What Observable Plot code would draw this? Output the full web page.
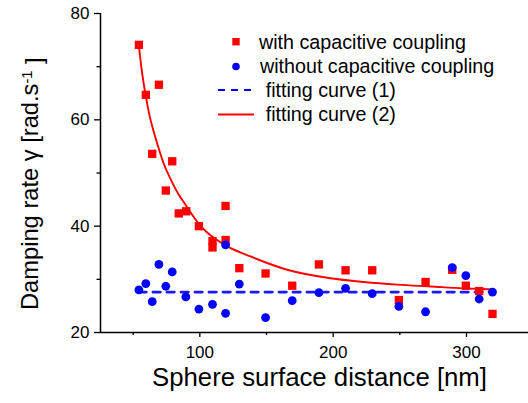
<!DOCTYPE html>
<html>
<head>
<meta charset="utf-8">
<script src="https://cdn.jsdelivr.net/npm/d3@7"></script>
<script src="https://cdn.jsdelivr.net/npm/@observablehq/plot@0.6"></script>
<style>
  html, body { margin: 0; padding: 0; background: #fff; }
  #wrap { position: relative; width: 528px; height: 403px; font-family: "Liberation Sans", Arial, sans-serif; }
  #legend { position: absolute; left: 0; top: 0; width: 528px; height: 403px; pointer-events: none; }
</style>
</head>
<body>
<div id="wrap"></div>
<script>
// ---- data ----
const redX = [54.3, 59.5, 64.3, 69.3, 74.5, 79.3, 84.2, 89.8, 99.3, 109.5, 109.5, 119.3, 119.3, 129.6, 149.3, 169.3, 189.3, 209.3, 229.3, 249.3, 269.3, 289.3, 299.5, 309.5, 319.5];
const redY = [74.1, 64.7, 53.6, 66.6, 46.7, 52.2, 42.4, 42.8, 40.0, 37.2, 36.0, 43.8, 37.4, 32.1, 31.1, 28.8, 32.8, 31.7, 31.7, 26.1, 29.5, 31.8, 28.8, 27.8, 23.5];

const blueX = [54.3, 59.5, 64.3, 69.3, 74.5, 79.3, 89.5, 99.3, 109.5, 119.3, 119.3, 129.6, 149.3, 169.3, 189.3, 209.3, 229.3, 249.3, 269.3, 289.3, 299.5, 309.5, 319.5];
const blueY = [28.0, 29.2, 25.8, 32.8, 28.7, 31.4, 26.7, 24.4, 25.3, 36.5, 23.6, 29.1, 22.8, 26.0, 27.5, 28.3, 27.3, 24.9, 23.9, 32.2, 30.7, 26.3, 27.6];

const fit1X = [54.3, 319.5];
const fit1Y = [27.6, 27.6];

const fit2X = [54.25, 56.3, 59.3, 62.3, 65.5, 69.25, 73.0, 78.0, 84.25, 88.0, 99.3, 110.5, 120.6, 138.0, 165.5, 198.0, 223.0, 248.0, 273.0, 298.0, 319.5];
const fit2Y = [74.0, 69.6, 64.7, 60.8, 57.7, 54.55, 51.7, 48.9, 45.9, 44.5, 40.4, 37.8, 36.2, 34.3, 31.8, 30.2, 29.5, 29.0, 28.65, 28.3, 28.1];

const xMajor = [100, 200, 300];
const xMinor = [50, 150, 250];
const yMajor = [20, 40, 60, 80];
const yMinor = [30, 50, 70];

const seriesLabels = ["with capacitive coupling", "without capacitive coupling", "fitting curve (1)", "fitting curve (2)"];
const xTitle = "Sphere surface distance [nm]";

const RED = "#ff0000", BLUE = "#0000ff";

const zip = (xs, ys) => xs.map((x, i) => ({x, y: ys[i]}));
const red = zip(redX, redY), blue = zip(blueX, blueY);
const fit1 = zip(fit1X, fit1Y), fit2 = zip(fit2X, fit2Y);

const font = '"Liberation Sans", Arial, sans-serif';

const plot = Plot.plot({
  width: 528, height: 403,
  marginLeft: 100, marginRight: 0, marginTop: 13, marginBottom: 71,
  x: {domain: [25.5, 346.5]},
  y: {domain: [20, 80]},
  style: {fontFamily: font, color: "#000", background: "#fff", overflow: "visible"},
  marks: [
    Plot.axisX({ticks: xMajor, tickSize: 5, tickPadding: 8, fontSize: 17, label: null, strokeWidth: 1.3}),
    Plot.axisX({ticks: xMinor, tickSize: 3, text: null, label: null, strokeWidth: 1.3}),
    Plot.axisY({ticks: yMajor, tickSize: 6, tickPadding: 5, fontSize: 17, label: null, strokeWidth: 1.3}),
    Plot.axisY({ticks: yMinor, tickSize: 3.5, text: null, label: null, strokeWidth: 1.3}),
    Plot.ruleY([20], {stroke: "#000", strokeWidth: 1.5}),
    Plot.ruleX([25.5], {stroke: "#000", strokeWidth: 1.5}),
    Plot.line(fit2, {x: "x", y: "y", stroke: RED, strokeWidth: 1.9, curve: "monotone-x"}),
    Plot.line(fit1, {x: "x", y: "y", stroke: BLUE, strokeWidth: 2.6, strokeDasharray: "7.5,6.5", strokeOpacity: 0.9}),
    Plot.dot(red, {x: "x", y: "y", symbol: "square", r: 4.7, fill: RED, stroke: "none"}),
    Plot.dot(blue, {x: "x", y: "y", symbol: "circle", r: 4.4, fill: BLUE, stroke: "none"})
  ]
});

document.getElementById("wrap").appendChild(plot);

const svg = d3.select(plot);
// x-axis title
svg.append("text")
  .attr("x", 319.5).attr("y", 386)
  .attr("text-anchor", "middle")
  .attr("font-family", font).attr("font-size", 25.75).attr("fill", "#000")
  .text(xTitle);

// y-axis title with superscript
const yt = svg.append("text")
  .attr("transform", "translate(38,310) rotate(-90)")
  .attr("text-anchor", "start")
  .attr("font-family", font).attr("font-size", 23.7).attr("fill", "#000");
yt.append("tspan").text("Damping rate \u03b3 [rad.s");
yt.append("tspan").attr("font-size", "0.62em").attr("dy", "-0.42em").text("-1");
yt.append("tspan").attr("dy", "0.42em").text(" ]");

// legend overlay
const lg = d3.select("#wrap").append("svg").attr("id", "legend").attr("width", 528).attr("height", 403);
const rowsY = [48.5, 73, 97, 121.2];
const textX = [259, 260, 265.7, 265.7];
const midY = [41.7, 66.5, 90, 114.5];
lg.append("rect").attr("x", 232.3).attr("y", midY[0] - 3.7).attr("width", 7.4).attr("height", 7.4).attr("fill", RED);
lg.append("circle").attr("cx", 236).attr("cy", midY[1]).attr("r", 3.8).attr("fill", BLUE);
lg.append("line").attr("x1", 218).attr("x2", 254).attr("y1", midY[2]).attr("y2", midY[2])
  .attr("stroke", BLUE).attr("stroke-width", 2).attr("stroke-dasharray", "7,6");
lg.append("line").attr("x1", 218).attr("x2", 254).attr("y1", midY[3]).attr("y2", midY[3])
  .attr("stroke", RED).attr("stroke-width", 1.8);
seriesLabels.forEach((t, i) => {
  lg.append("text").attr("x", textX[i]).attr("y", rowsY[i])
    .attr("font-family", font).attr("font-size", 19.7).attr("fill", "#000").text(t);
});
</script>
</body>
</html>
